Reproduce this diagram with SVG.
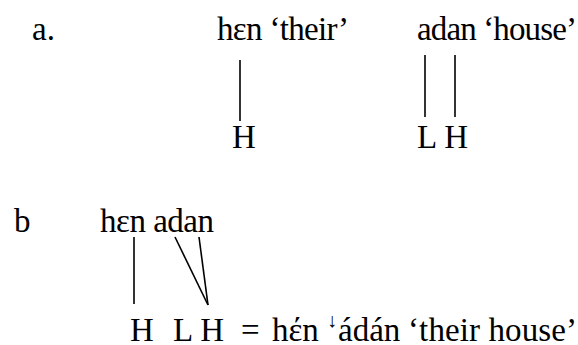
<svg xmlns="http://www.w3.org/2000/svg" width="578" height="345" viewBox="0 0 578 345">
<style>
text{font-family:'Liberation Serif','DejaVu Serif','Times New Roman',serif;font-size:33px;fill:#000}
.sm{font-size:20px}
line{stroke:#000;stroke-width:1.6}
</style>
<rect width="578" height="345" fill="#fff"/>
<g id="label-a"><text x="32" y="40">a.</text></g>
<g id="hen-their"><text x="217" y="40" textLength="132" lengthAdjust="spacing">hεn ‘their’</text></g>
<g id="adan-house"><text x="417" y="40" textLength="160" lengthAdjust="spacing">adan ‘house’</text></g>
<g id="tone-H-a"><text x="232" y="148">H</text></g>
<g id="tone-LH-a"><text x="417" y="148">L H</text></g>
<g id="label-b"><text x="14" y="232">b</text></g>
<g id="hen-adan"><text x="100" y="232" textLength="114" lengthAdjust="spacing">hεn adan</text></g>
<g id="tones-b">
<text x="130" y="341">H</text>
<text x="173" y="341">L H</text>
</g>
<g id="result">
<text x="241" y="341">=</text>
<text x="272" y="341">hέn</text>
<text class="sm" x="327" y="327">↓</text>
<text x="338" y="341">ádán</text>
<text x="408" y="341" textLength="169" lengthAdjust="spacing">‘their house’</text>
</g>
<g id="connectors">
<line x1="240" y1="60" x2="240" y2="121"/>
<line x1="425" y1="55" x2="425" y2="117"/>
<line x1="455" y1="55" x2="455" y2="117"/>
<line x1="134" y1="237" x2="134" y2="304"/>
<line x1="175" y1="237" x2="208" y2="305"/>
<line x1="199" y1="237" x2="208" y2="305"/>
</g>
</svg>
